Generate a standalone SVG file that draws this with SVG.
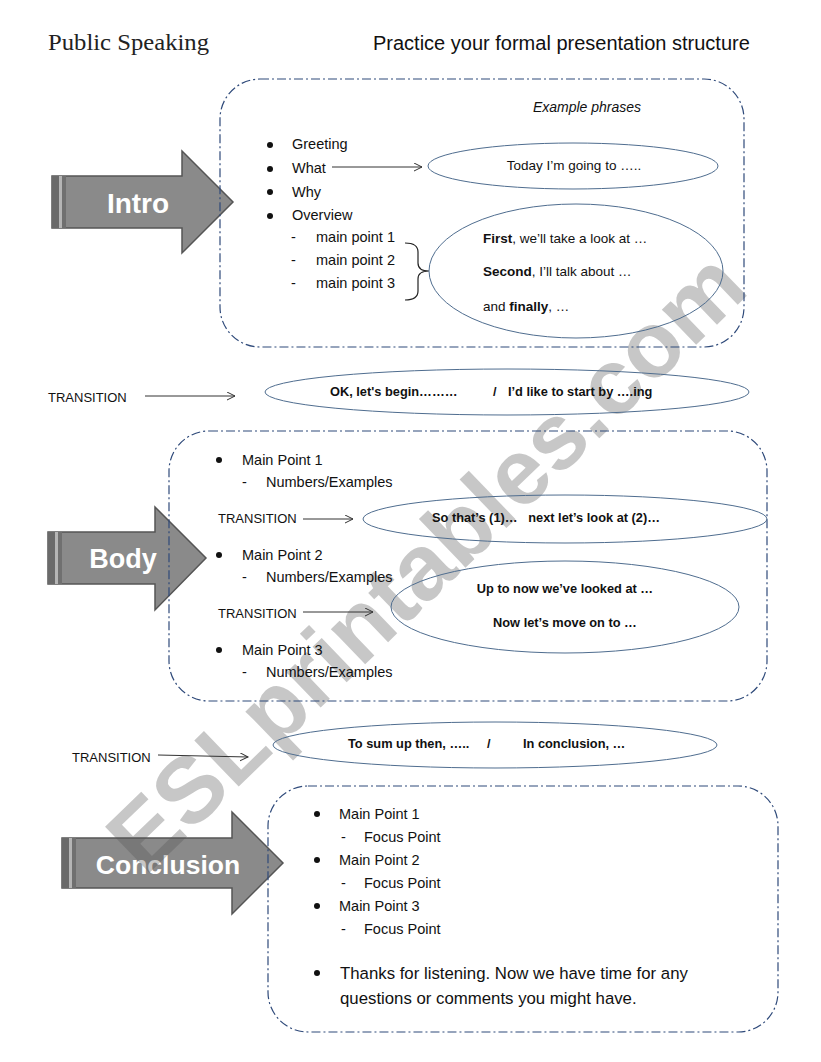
<svg xmlns="http://www.w3.org/2000/svg" width="821" height="1062" viewBox="0 0 821 1062">
<defs>
<style>
.t{font-family:"Liberation Sans",Arial,sans-serif;font-size:14.5px;fill:#111}
.s{font-family:"Liberation Sans",Arial,sans-serif;font-size:13.5px;fill:#111}
.b{font-family:"Liberation Sans",Arial,sans-serif;font-size:12.8px;font-weight:bold;fill:#111}
.tr{font-family:"Liberation Sans",Arial,sans-serif;font-size:13px;fill:#111}
.lbl{font-family:"Liberation Sans",Arial,sans-serif;font-weight:bold;fill:#fff}
.box{fill:none;stroke:#2f4a7a;stroke-width:1.2;stroke-dasharray:9 3 2 3}
.ell{fill:none;stroke:#4f6d8f;stroke-width:1}
.arr{fill:#8a8a8a;stroke:#555;stroke-width:1.5}
.con{stroke:#333;stroke-width:1;fill:none;marker-end:url(#ah)}
.dot{fill:#111}
</style>
<marker id="ah" markerWidth="10" markerHeight="10" refX="8" refY="4" orient="auto" markerUnits="userSpaceOnUse">
<path d="M0,0 L8,4 L0,8" fill="none" stroke="#333" stroke-width="1"/>
</marker>
</defs>
<rect width="821" height="1062" fill="#fff"/>

<g id="intro-arrow">
<polygon class="arr" points="52,176 182,176 182,151 233,202 182,253 182,228 52,228"/>
<rect x="52" y="176" width="7" height="52" fill="#6a6a6a"/>
<rect x="59" y="176" width="3" height="52" fill="#b5b5b5"/>
<rect x="62" y="176" width="4" height="52" fill="#707070"/>
<text class="lbl" x="138" y="213" font-size="28" text-anchor="middle">Intro</text>
</g>

<g id="body-arrow">
<polygon class="arr" points="48,532 155,532 155,507 206,558 155,610 155,584 48,584"/>
<rect x="48" y="532" width="7" height="52" fill="#6a6a6a"/>
<rect x="55" y="532" width="3" height="52" fill="#b5b5b5"/>
<rect x="58" y="532" width="4" height="52" fill="#707070"/>
<text class="lbl" x="123" y="568" font-size="27" text-anchor="middle">Body</text>
</g>

<g id="conclusion-arrow">
<polygon class="arr" points="62,838 232,838 232,812 283,863 232,914 232,888 62,888"/>
<rect x="62" y="838" width="7" height="50" fill="#6a6a6a"/>
<rect x="69" y="838" width="3" height="50" fill="#b5b5b5"/>
<rect x="72" y="838" width="4" height="50" fill="#707070"/>
<text class="lbl" x="168" y="874" font-size="26.5" text-anchor="middle">Conclusion</text>
</g>

<g id="watermark">
<text x="145" y="877" transform="rotate(-44 145 877)" font-family="'Liberation Sans',Arial,sans-serif" font-weight="bold" font-size="93" fill="#555" fill-opacity="0.33">ESLprintables.com</text>
</g>

<g id="header">
<text x="48" y="50" font-family="'Liberation Serif',serif" font-size="22.5" fill="#222" textLength="161" lengthAdjust="spacingAndGlyphs">Public Speaking</text>
<text x="373" y="50" font-family="'Liberation Sans',Arial,sans-serif" font-size="20" fill="#111">Practice your formal presentation structure</text>
</g>

<g id="intro-box">
<rect class="box" x="220" y="79" width="524" height="268" rx="40"/>
<text x="587" y="112" font-family="'Liberation Sans',Arial,sans-serif" font-size="14" font-style="italic" fill="#111" text-anchor="middle">Example phrases</text>
<circle class="dot" cx="270" cy="145" r="3"/><text class="t" x="292" y="149">Greeting</text>
<circle class="dot" cx="270" cy="169" r="3"/><text class="t" x="292" y="173">What</text>
<circle class="dot" cx="270" cy="192" r="3"/><text class="t" x="292" y="197">Why</text>
<circle class="dot" cx="270" cy="216" r="3"/><text class="t" x="292" y="220">Overview</text>
<text class="t" x="291" y="242">-</text><text class="t" x="316" y="242">main point 1</text>
<text class="t" x="291" y="265">-</text><text class="t" x="316" y="265">main point 2</text>
<text class="t" x="291" y="288">-</text><text class="t" x="316" y="288">main point 3</text>
<path d="M405,243 Q418,243 418,252 L418,263 Q418,271 429,271 Q418,271 418,279 L418,291 Q418,300 405,300" fill="none" stroke="#222" stroke-width="1.2"/>
</g>

<g id="intro-ellipse-what">
<ellipse class="ell" cx="573" cy="166" rx="145" ry="23"/>
<text class="s" x="574" y="170" text-anchor="middle">Today I’m going to …..</text>
</g>

<g id="intro-ellipse-overview">
<ellipse class="ell" cx="576" cy="271" rx="147" ry="67"/>
<text class="s" x="483" y="243"><tspan font-weight="bold">First</tspan>, we’ll take a look at …</text>
<text class="s" x="483" y="276"><tspan font-weight="bold">Second</tspan>, I’ll talk about …</text>
<text class="s" x="483" y="311">and <tspan font-weight="bold">finally</tspan>, …</text>
</g>

<g id="transition-1">
<text class="tr" x="48" y="402">TRANSITION</text>
<ellipse class="ell" cx="507" cy="392" rx="242" ry="23"/>
<text class="b" x="330" y="396">OK, let's begin………</text>
<text class="b" x="493" y="396">/</text>
<text class="b" x="508" y="396">I’d like to start by ….ing</text>
</g>

<g id="body-box">
<rect class="box" x="169" y="431" width="598" height="270" rx="40"/>
<circle class="dot" cx="219" cy="460" r="3"/><text class="t" x="242" y="465">Main Point 1</text>
<text class="t" x="242" y="487">-</text><text class="t" x="266" y="487">Numbers/Examples</text>
<text class="tr" x="218" y="523">TRANSITION</text>
<circle class="dot" cx="219" cy="555" r="3"/><text class="t" x="242" y="560">Main Point 2</text>
<text class="t" x="242" y="582">-</text><text class="t" x="266" y="582">Numbers/Examples</text>
<text class="tr" x="218" y="618">TRANSITION</text>
<circle class="dot" cx="219" cy="650" r="3"/><text class="t" x="242" y="655">Main Point 3</text>
<text class="t" x="242" y="677">-</text><text class="t" x="266" y="677">Numbers/Examples</text>
</g>

<g id="body-ellipse-1">
<ellipse class="ell" cx="565" cy="519" rx="202" ry="24"/>
<text class="b" x="432" y="522" xml:space="preserve">So that’s (1)…   next let’s look at (2)…</text>
</g>

<g id="body-ellipse-2">
<ellipse class="ell" cx="565" cy="607" rx="174" ry="46"/>
<text class="b" x="565" y="593" text-anchor="middle">Up to now we’ve looked at …</text>
<text class="b" x="565" y="627" text-anchor="middle">Now let’s move on to …</text>
</g>

<g id="transition-3">
<text class="tr" x="72" y="762">TRANSITION</text>
<ellipse class="ell" cx="495" cy="745" rx="222" ry="23"/>
<text class="b" x="348" y="748">To sum up then, …..</text>
<text class="b" x="487" y="748">/</text>
<text class="b" x="523" y="748">In conclusion, …</text>
</g>

<g id="conclusion-box">
<rect class="box" x="268" y="786" width="510" height="246" rx="40"/>
<circle class="dot" cx="317" cy="814" r="3"/><text class="t" x="339" y="819">Main Point 1</text>
<text class="t" x="341" y="842">-</text><text class="t" x="364" y="842">Focus Point</text>
<circle class="dot" cx="317" cy="860" r="3"/><text class="t" x="339" y="865">Main Point 2</text>
<text class="t" x="341" y="888">-</text><text class="t" x="364" y="888">Focus Point</text>
<circle class="dot" cx="317" cy="906" r="3"/><text class="t" x="339" y="911">Main Point 3</text>
<text class="t" x="341" y="934">-</text><text class="t" x="364" y="934">Focus Point</text>
<circle class="dot" cx="317" cy="973" r="3"/>
<text x="340" y="979" font-family="'Comic Sans MS','Liberation Sans',sans-serif" font-size="16.8" fill="#111">Thanks for listening. Now we have time for any</text>
<text x="340" y="1004" font-family="'Comic Sans MS','Liberation Sans',sans-serif" font-size="16.8" fill="#111">questions or comments you might have.</text>
</g>

<g id="connectors">
<line class="con" x1="332" y1="167" x2="422" y2="167"/>
<line class="con" x1="145" y1="396" x2="235" y2="396"/>
<line class="con" x1="303" y1="519" x2="353" y2="519"/>
<line class="con" x1="303" y1="612" x2="373" y2="612"/>
<line class="con" x1="158" y1="755" x2="248" y2="757"/>
</g>
</svg>
